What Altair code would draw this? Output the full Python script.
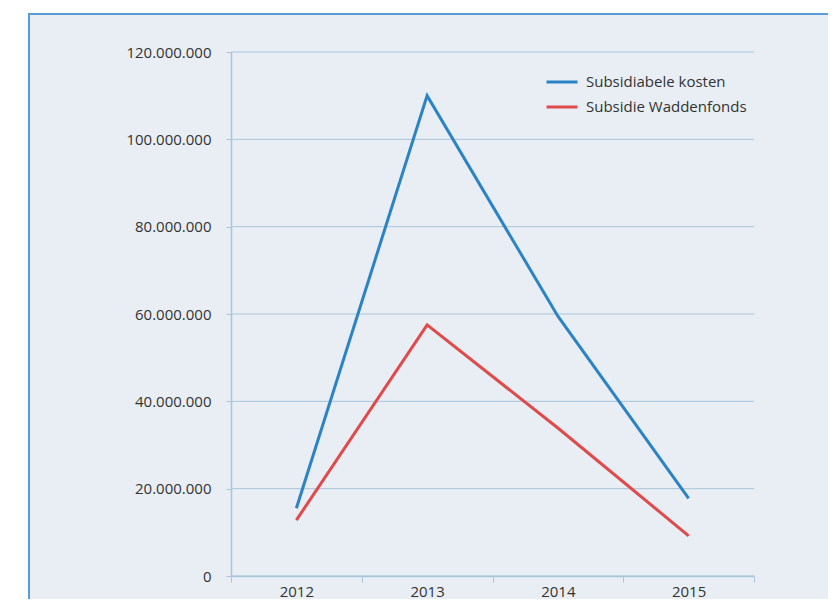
import altair as alt
import pandas as pd

years = ["2012", "2013", "2014", "2015"]
subsidiabele_kosten = [15_500_000, 110_000_000, 59_500_000, 17_800_000]
subsidie_waddenfonds = [12_800_000, 57_500_000, 33_900_000, 9_200_000]
series = ["Subsidiabele kosten", "Subsidie Waddenfonds"]
colors = ["#2b83c6", "#df4a4b"]
grid_values = [0, 20_000_000, 40_000_000, 60_000_000, 80_000_000, 100_000_000, 120_000_000]

df = pd.DataFrame({
    "jaar": years * 2,
    "waarde": subsidiabele_kosten + subsidie_waddenfonds,
    "reeks": [series[0]] * 4 + [series[1]] * 4,
})
grid_df = pd.DataFrame({"v": grid_values})

W, H = 523, 524
FONT = "Open Sans"
GRID = "#a9c5da"

frame = alt.Chart(pd.DataFrame({"a": [0]})).mark_rect(
    fill="#e8eef3", stroke="#5b9bd5", strokeWidth=2
).encode(
    x=alt.value(-202), x2=alt.value(W + 400),
    y=alt.value(-38), y2=alt.value(H + 300),
)

yscale = alt.Scale(domain=[0, 120_000_000])
yaxis = alt.Axis(values=grid_values, grid=False, tickSize=5, labelPadding=15,
                 labelExpr="replace(format(datum.value, ','), /,/g, '.')",
                 domainColor=GRID, tickColor=GRID, domainWidth=1.5,
                 labelFont=FONT, labelFontSize=15, labelColor="#333333",
                 zindex=1)

grid = alt.Chart(grid_df).mark_rule(color=GRID, strokeWidth=1).encode(
    y=alt.Y("v:Q", scale=yscale, axis=yaxis, title=None),
)

lines = alt.Chart(df).mark_line(strokeWidth=3).encode(
    x=alt.X("jaar:O", sort=years, title=None,
            scale=alt.Scale(paddingInner=0, paddingOuter=0),
            axis=alt.Axis(labelAngle=0, tickBand="extent", tickSize=6,
                          labelPadding=2, domainColor=GRID, tickColor=GRID,
                          labelFont=FONT, labelFontSize=15, labelColor="#333333",
                          zindex=1, domainWidth=1.5)),
    y=alt.Y("waarde:Q", scale=yscale, title=None, axis=yaxis),
    color=alt.Color("reeks:N", scale=alt.Scale(domain=series, range=colors),
                    legend=alt.Legend(title=None, orient="none", legendX=314, legendY=13,
                                      symbolType="stroke", symbolSize=961,
                                      symbolStrokeWidth=3, rowPadding=-5,
                                      labelFont=FONT, labelFontSize=15, labelLimit=300,
                                      labelColor="#333333", labelOffset=7)),
)

chart = alt.layer(frame, grid, lines).properties(
    width=W, height=H,
    autosize=alt.AutoSizeParams(type="none"),
    padding={"left": 223, "top": 44, "right": 74, "bottom": 23},
).configure_view(stroke=None).configure(background="white")

chart.save("out.html", embed_options={"renderer": "svg", "actions": False})
